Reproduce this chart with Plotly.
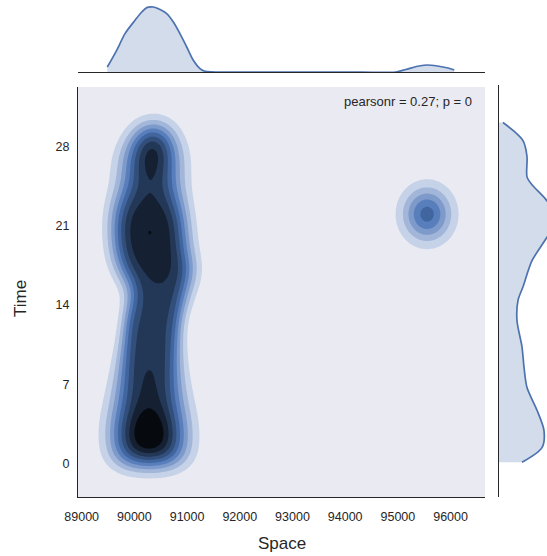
import math
import colorsys
import numpy as np
import plotly.graph_objects as go

# ---------------- data ----------------
x_tick_values = [89000, 90000, 91000, 92000, 93000, 94000, 95000, 96000]
y_tick_values = [0, 7, 14, 21, 28]
x_range = [88930, 96653]
y_range = [-2.96, 33.23]

# Main (left) cluster of the joint density, described row by row in Time:
# row position, centre in Space, central density, half width, edge softness
row_y = [0.5, 1.5, 2.5, 3.5, 4.5, 5.5, 6.5, 7.5, 8.5, 9.5,
         10.5, 11.5, 12.5, 13.5, 14.5, 15.5, 16.5, 17.5, 18.5, 19.5,
         20.5, 21.5, 22.5, 23.5, 24.5, 25.5, 26.5, 27.5, 28.5, 29.5]
row_centre = [90280, 90280, 90275, 90275, 90275, 90275, 90275, 90280, 90285, 90295,
              90310, 90325, 90340, 90390, 90450, 90480, 90450, 90390, 90330, 90300,
              90290, 90280, 90275, 90285, 90300, 90310, 90315, 90330, 90350, 90370]
row_peak = [0.92, 1.04, 1.07, 1.04, 0.90, 0.84, 0.82, 0.81, 0.80, 0.78,
            0.76, 0.74, 0.73, 0.74, 0.76, 0.78, 0.82, 0.86, 0.885, 0.895,
            0.915, 0.905, 0.86, 0.79, 0.76, 0.80, 0.87, 0.88, 0.85, 0.40]
row_half = [560, 560, 560, 560, 550, 540, 530, 520, 515, 510,
            505, 505, 510, 505, 500, 500, 620, 660, 650, 640,
            640, 630, 600, 540, 460, 390, 380, 350, 290, 240]
row_edge = [300, 300, 300, 300, 290, 270, 250, 225, 200, 180,
            165, 150, 140, 150, 170, 190, 205, 215, 220, 220,
            220, 220, 225, 240, 265, 295, 300, 290, 265, 250]
row_bandwidth_y = 1.1

# Small (right) cluster
blob_x = [95554]
blob_y = [22.0]
blob_peak = [0.54]
blob_sx = [325]
blob_sy = [1.68]

# Marginal density curves (heights as read, in pixels of the panel)
marg_x_pos = [89486, 89664, 89822, 90012, 90139, 90234, 90359, 90487, 90613, 90739,
              90865, 90993, 91118, 91245, 91340, 92000, 93000, 94000, 94960, 95150,
              95350, 95540, 95750, 95950, 96070]
marg_x_h = [5, 21.7, 38.4, 51.7, 60, 64.4, 65, 62.4, 58.4, 50,
            38.4, 25, 11.7, 3.4, 0.7, 0, 0, 0, 0, 2.5,
            5.5, 7, 6, 4, 2]
marg_y_pos = [30.1, 29.4, 28.5, 27.1, 25.3, 24.6, 23.4, 22.5, 21.6, 20.7,
              19.7, 17.9, 15.6, 14.4, 12.6, 10.3, 8.5, 6.7, 4.7, 2.9,
              1.4, 0.1]
marg_y_h = [4, 14, 24, 28, 28, 33, 46, 53, 57, 53,
            46, 33, 24, 19, 18, 23, 25, 28, 38, 45,
            43, 23]

stat_label = "pearsonr = 0.27; p = 0"
x_title = "Space"
y_title = "Time"

# ---------------- density field ----------------
gx = np.linspace(x_range[0], x_range[1], 380)
gy = np.linspace(y_range[0], y_range[1], 340)
_erf = np.vectorize(math.erf)


def phi(z):
    return 0.5 * (1.0 + _erf(np.asarray(z, dtype=float) / math.sqrt(2.0)))


spacing = row_y[1] - row_y[0]
norm = row_bandwidth_y * math.sqrt(2 * math.pi) / spacing
Z = np.zeros((len(gy), len(gx)))
for yi, c, pk, a, s in zip(row_y, row_centre, row_peak, row_half, row_edge):
    prof = (phi((gx - c + a) / s) - phi((gx - c - a) / s)) / (2 * phi(a / s) - 1)
    yk = np.exp(-0.5 * ((gy - yi) / row_bandwidth_y) ** 2) / norm
    Z += pk * np.outer(yk, prof)
for bx, by, bp, sx, sy in zip(blob_x, blob_y, blob_peak, blob_sx, blob_sy):
    Z += bp * np.outer(np.exp(-0.5 * ((gy - by) / sy) ** 2),
                       np.exp(-0.5 * ((gx - bx) / sx) ** 2))
Z10 = Z * 10.0

# ---------------- colours ----------------
BG = "#EAEAF2"
BLUE = "#4C72B0"
h0, l0, s0 = colorsys.rgb_to_hls(76 / 255, 114 / 255, 176 / 255)
s0 = 0.42


def hls_hex(l):
    r, g, b = colorsys.hls_to_rgb(h0, l, s0)
    return "#%02x%02x%02x" % (round(r * 255), round(g * 255), round(b * 255))


band_colors = [BG] + [hls_hex(0.94 - 0.1 * k) for k in range(1, 10)]
cscale = []
for k, col in enumerate(band_colors):
    lo = max(0.0, (k - 0.75) / 9)
    hi = min(1.0, (k + 0.25) / 9)
    if k == 9:
        hi = 1.0
    cscale.append([lo, col])
    cscale.append([hi, col])

W, H = 547, 556
FONT = "Liberation Sans, Arial, sans-serif"
TXT = "#262626"
SPINE = "#262626"

fig = go.Figure()
fig.add_trace(go.Contour(
    x=gx, y=gy, z=Z10, autocontour=False,
    contours=dict(start=1, end=9, size=1, coloring="fill", showlines=False),
    line=dict(width=0, smoothing=1), colorscale=cscale, showscale=False,
    hoverinfo="skip", xaxis="x", yaxis="y"))

fig.add_trace(go.Scatter(
    x=marg_x_pos, y=marg_x_h, mode="lines",
    line=dict(color=BLUE, width=1.7, shape="spline", smoothing=0.8),
    fill="tozeroy", fillcolor="rgba(76,114,176,0.25)",
    hoverinfo="skip", xaxis="x2", yaxis="y2"))

fig.add_trace(go.Scatter(
    x=marg_y_h, y=marg_y_pos, mode="lines",
    line=dict(color=BLUE, width=1.7, shape="spline", smoothing=0.8),
    fill="tozerox", fillcolor="rgba(76,114,176,0.25)",
    hoverinfo="skip", xaxis="x3", yaxis="y3"))

main_x_dom = [78 / W, 485 / W]
main_y_dom = [1 - 497 / H, 1 - 87 / H]

fig.update_layout(
    width=W, height=H, margin=dict(l=0, r=0, t=0, b=0, autoexpand=False),
    paper_bgcolor="white", plot_bgcolor="white", showlegend=False,
    hovermode=False, font=dict(family=FONT, color=TXT),
    xaxis=dict(domain=main_x_dom, range=x_range, tickvals=x_tick_values,
               ticktext=[str(v) for v in x_tick_values], ticks="",
               showline=True, linecolor=SPINE, linewidth=1.3, showgrid=False,
               zeroline=False, tickfont=dict(size=12.5, color=TXT),
               ticklabelstandoff=8, anchor="y", automargin=False),
    yaxis=dict(domain=main_y_dom, range=y_range, tickvals=y_tick_values,
               ticktext=[str(v) for v in y_tick_values], ticks="",
               showline=True, linecolor=SPINE, linewidth=1.3, showgrid=False,
               zeroline=False, tickfont=dict(size=12.5, color=TXT),
               ticklabelstandoff=5, anchor="x", automargin=False),
    xaxis2=dict(domain=main_x_dom, range=x_range, anchor="y2", showline=True,
                linecolor=SPINE, linewidth=1.3, showticklabels=False, ticks="",
                showgrid=False, zeroline=False, automargin=False),
    yaxis2=dict(domain=[1 - 72 / H, 1.0], range=[0, 72], anchor="x2", visible=False,
                automargin=False),
    xaxis3=dict(domain=[499 / W, 1.0], range=[0, 48], anchor="y3", visible=False,
                automargin=False),
    yaxis3=dict(domain=[1 - 497 / H, 1 - 85 / H], range=[-2.96, 33.41], anchor="x3",
                showline=True, linecolor=SPINE, linewidth=1.3, showticklabels=False,
                ticks="", showgrid=False, zeroline=False, automargin=False),
    shapes=[dict(type="rect", xref="x domain", yref="y domain", x0=0, x1=1, y0=0, y1=1,
                 fillcolor=BG, line=dict(width=0), layer="below")],
    annotations=[
        dict(text=x_title, xref="paper", yref="paper", x=281.5 / W, y=1 - 543 / H,
             xanchor="center", yanchor="middle", showarrow=False,
             font=dict(size=17, color=TXT, family=FONT)),
        dict(text=y_title, xref="paper", yref="paper", x=20 / W, y=1 - 299 / H,
             xanchor="center", yanchor="middle", showarrow=False, textangle=-90,
             font=dict(size=17, color=TXT, family=FONT)),
        dict(text=stat_label, xref="paper", yref="paper", x=474 / W, y=1 - 102 / H,
             xanchor="right", yanchor="middle", showarrow=False,
             font=dict(size=13, color=TXT, family=FONT)),
    ],
)

fig.write_html("out.html", config={"displayModeBar": False},
               post_script="document.body.style.margin='0';"
                           "document.body.style.overflow='hidden';")
